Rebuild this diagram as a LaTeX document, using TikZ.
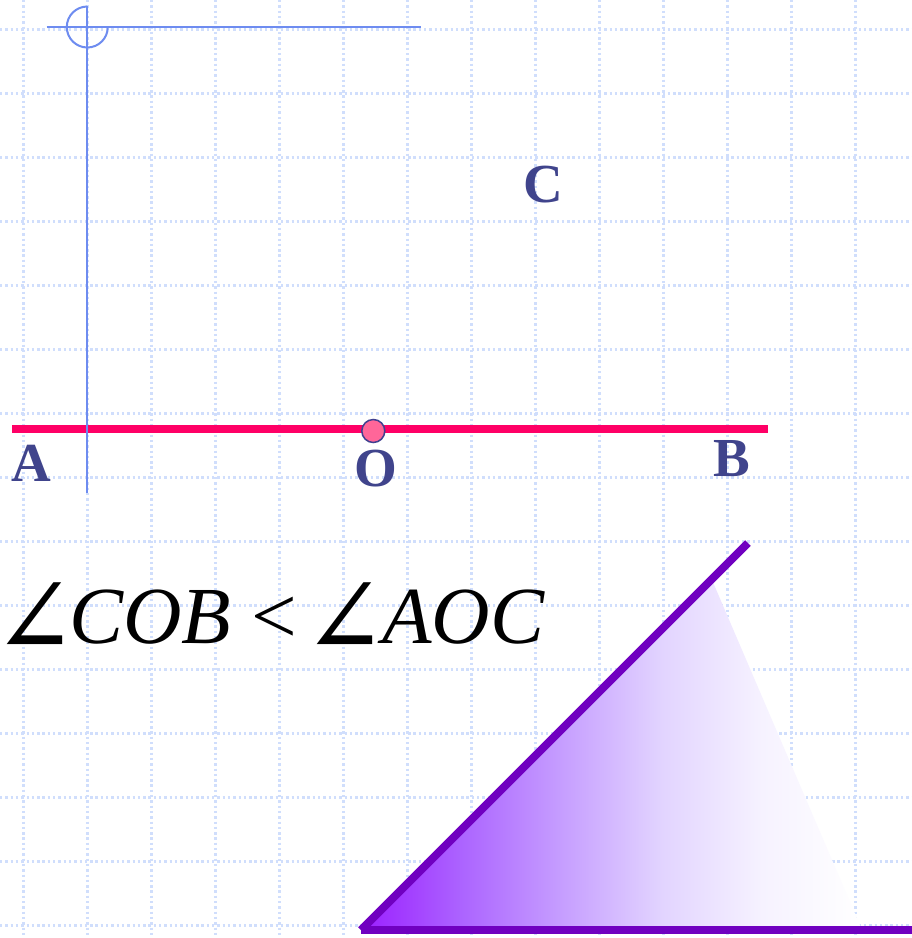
\documentclass[tikz,border=0pt]{standalone}
\usepackage{fontspec}
\setmainfont{Liberation Serif}
\newfontfamily\angfont{DejaVu Serif}
\definecolor{gridc}{RGB}{208,222,252}
\definecolor{bluel}{RGB}{110,140,240}
\definecolor{redl}{RGB}{255,0,102}
\definecolor{dotf}{RGB}{255,102,153}
\definecolor{dots}{RGB}{64,64,144}
\definecolor{lblc}{RGB}{64,68,140}
\definecolor{purl}{RGB}{112,0,192}
\definecolor{tpa}{RGB}{155,32,255}
\definecolor{tpb}{RGB}{172,100,255}
\definecolor{tpc}{RGB}{198,158,255}
\definecolor{tpd}{RGB}{226,212,255}
\definecolor{tpe}{RGB}{246,242,255}
\pgfdeclarehorizontalshading{trishade}{100bp}{color(0bp)=(tpa); color(25bp)=(tpa); color(35bp)=(tpb); color(45bp)=(tpc); color(55bp)=(tpd); color(65bp)=(tpe); color(75bp)=(white); color(100bp)=(white)}
\tikzset{
  gridline/.style={gridc, line width=3pt, dash pattern=on 2.4pt off 2.9pt},
  blueline/.style={bluel, line width=2pt},
  purpline/.style={purl, line width=8pt},
  lbl/.style={lblc, font=\fontsize{55}{60}\selectfont\bfseries, inner sep=0pt, anchor=base},
  formula/.style={anchor=base west, inner sep=0pt, font=\fontsize{81}{90}\selectfont},
}
\newcommand{\bigangle}{\kern-16pt\scalebox{1.22}[1.36]{\angfont ∠}}
\begin{document}
\begin{tikzpicture}[x=1pt,y=-1pt]
\useasboundingbox (0,0) rectangle (912,938);
\fill[white] (0,0) rectangle (912,938);
% grid
\foreach \i in {0,...,13} \draw[gridline] (23.3+64*\i,0) -- (23.3+64*\i,938);
\foreach \j in {0,...,14} \draw[gridline] (0,29.3+64*\j) -- (912,29.3+64*\j);
% shaded triangle
\shade[shading=trishade] (362,930) -- (712,580) -- (862,930) -- cycle;
\draw[purpline] (361,930) -- (748,543);
\draw[purpline] (361,930) -- (912,930);
% red line
\draw[redl, line width=8pt] (12,429) -- (768,429);
% blue construction lines
\draw[blueline] (46.7,27) -- (420.7,27);
\draw[blueline] (87.3,6) -- (87.3,493);
\draw[blueline] (87.3,6.5) arc[start angle=270, end angle=0, radius=20.5];
% point O
\draw[fill=dotf, draw=dots, line width=1.5pt] (373.3,431) circle[radius=11.5];
% labels
\node[lbl] (A) at (31.5,481) {A};
\node[lbl] (O) at (375.5,486) {O};
\node[lbl] (B) at (731.5,476) {B};
\node[lbl] (C) at (543.5,202) {C};
% formula
\node[formula] (ang1) at (9,655) {\bigangle};
\node[formula] (cob) at (69,643) {\textit{COB}};
\node[formula] (lt) at (251,643) {<};
\node[formula] (ang2) at (319,655) {\bigangle};
\node[formula] (aoc) at (382,643) {\textit{AOC}};
\end{tikzpicture}
\end{document}
